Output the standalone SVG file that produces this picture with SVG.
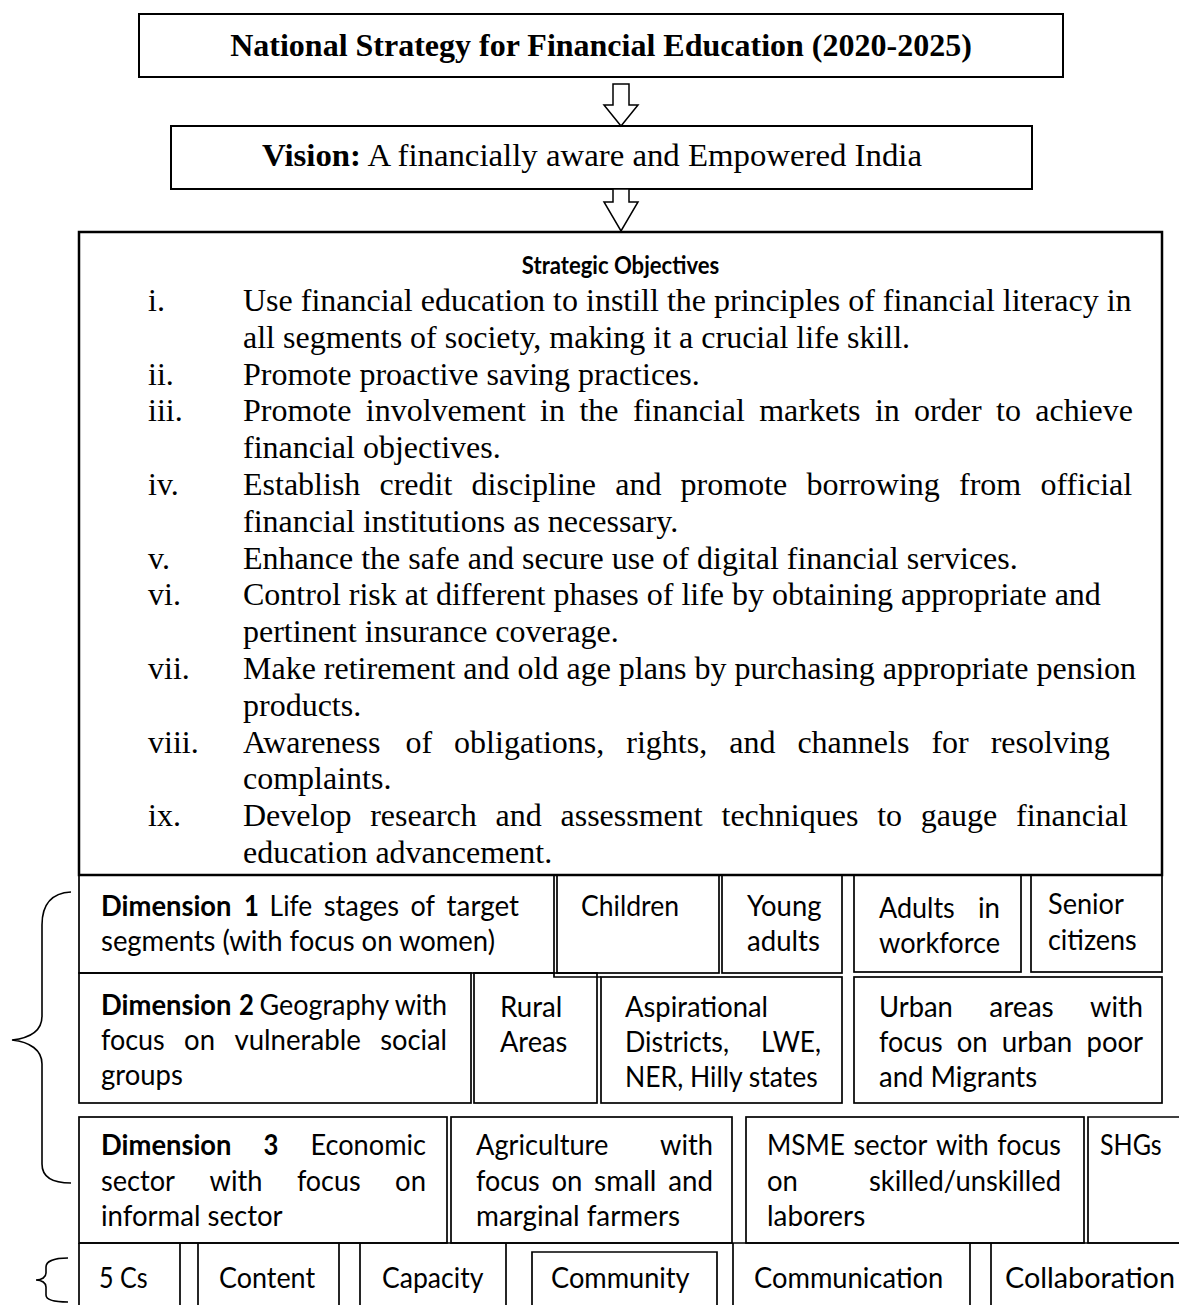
<svg xmlns="http://www.w3.org/2000/svg" width="1179" height="1305" viewBox="0 0 1179 1305">
<style>
.t{font-family:"Liberation Serif","Times New Roman",serif;font-size:32px;fill:#000}
.c{font-family:Lato,"Liberation Sans",sans-serif;font-size:29.33px;fill:#000}
.b{font-weight:bold}
.bx{fill:none;stroke:#000;stroke-width:2}
.ob{fill:none;stroke:#000;stroke-width:2.5}
.cl{fill:none;stroke:#000;stroke-width:1.7}
.ar{fill:#fff;stroke:#000;stroke-width:1.5;stroke-linejoin:miter}
.br{fill:none;stroke:#000;stroke-width:1.6}
</style>
<rect width="1179" height="1305" fill="#fff"/>

<g id="node-title">
<rect class="bx" x="139" y="14" width="924" height="63"/>
<text class="t b" x="601" y="56" text-anchor="middle">National Strategy for Financial Education (2020-2025)</text>
</g>

<g id="node-vision">
<rect class="bx" x="171" y="126" width="861" height="63"/>
<text class="t" x="262" y="166" textLength="660" lengthAdjust="spacingAndGlyphs"><tspan class="b">Vision:</tspan> A financially aware and Empowered India</text>
</g>

<g id="connectors">
<polygon class="ar" points="613,84 629,84 629,105 638,105 621,126 604,105 613,105"/>
<polygon class="ar" points="613,189 629,189 629,202 638,202 621,231 604,202 613,202"/>
</g>

<g id="node-objectives">
<rect class="ob" x="79" y="232" width="1083" height="643"/>
<text class="c b" x="620.5" y="274" text-anchor="middle" style="font-size:24px" textLength="197.4" lengthAdjust="spacingAndGlyphs">Strategic Objectives</text>
<text class="t" x="148" y="311">i.</text>
<text class="t" x="243" y="311">Use financial education to instill the principles of financial literacy in</text>
<text class="t" x="243" y="347.8">all segments of society, making it a crucial life skill.</text>
<text class="t" x="148" y="384.6">ii.</text>
<text class="t" x="243" y="384.6">Promote proactive saving practices.</text>
<text class="t" x="148" y="421.4">iii.</text>
<text class="t" y="421.4"><tspan x="243">Promote</tspan><tspan x="365.8">involvement</tspan><tspan x="540.1">in</tspan><tspan x="579.4">the</tspan><tspan x="632.9">financial</tspan><tspan x="759.2">markets</tspan><tspan x="874.9">in</tspan><tspan x="914.1">order</tspan><tspan x="996">to</tspan><tspan x="1035.3">achieve</tspan></text>
<text class="t" x="243" y="458.2">financial objectives.</text>
<text class="t" x="148" y="495">iv.</text>
<text class="t" y="495"><tspan x="243">Establish</tspan><tspan x="379.5">credit</tspan><tspan x="471.6">discipline</tspan><tspan x="615.2">and</tspan><tspan x="680.6">promote</tspan><tspan x="806.5">borrowing</tspan><tspan x="959">from</tspan><tspan x="1040.4">official</tspan></text>
<text class="t" x="243" y="531.8">financial institutions as necessary.</text>
<text class="t" x="148" y="568.6">v.</text>
<text class="t" x="243" y="568.6">Enhance the safe and secure use of digital financial services.</text>
<text class="t" x="148" y="605.4">vi.</text>
<text class="t" x="243" y="605.4">Control risk at different phases of life by obtaining appropriate and</text>
<text class="t" x="243" y="642.2">pertinent insurance coverage.</text>
<text class="t" x="148" y="679">vii.</text>
<text class="t" x="243" y="679">Make retirement and old age plans by purchasing appropriate pension</text>
<text class="t" x="243" y="715.8">products.</text>
<text class="t" x="148" y="752.6">viii.</text>
<text class="t" y="752.6"><tspan x="243">Awareness</tspan><tspan x="405.4">of</tspan><tspan x="454.1">obligations,</tspan><tspan x="626.3">rights,</tspan><tspan x="729.2">and</tspan><tspan x="797.4">channels</tspan><tspan x="931.4">for</tspan><tspan x="990.7">resolving</tspan></text>
<text class="t" x="243" y="789.4">complaints.</text>
<text class="t" x="148" y="826.2">ix.</text>
<text class="t" y="826.2"><tspan x="243">Develop</tspan><tspan x="370.2">research</tspan><tspan x="495.6">and</tspan><tspan x="560.5">assessment</tspan><tspan x="721.5">techniques</tspan><tspan x="877.2">to</tspan><tspan x="920.8">gauge</tspan><tspan x="1016">financial</tspan></text>
<text class="t" x="243" y="863">education advancement.</text>
</g>

<g id="node-dimension1">
<rect class="cl" x="79" y="875" width="475" height="98"/>
<text class="c b" x="101" y="916" textLength="130.5" lengthAdjust="spacingAndGlyphs">Dimension</text>
<text class="c b" x="244" y="916" textLength="14.9" lengthAdjust="spacingAndGlyphs">1</text>
<text class="c" x="269.6" y="916" textLength="42.6" lengthAdjust="spacingAndGlyphs">Life</text>
<text class="c" x="323.8" y="916" textLength="75.2" lengthAdjust="spacingAndGlyphs">stages</text>
<text class="c" x="410.6" y="916" textLength="24.4" lengthAdjust="spacingAndGlyphs">of</text>
<text class="c" x="446.6" y="916" textLength="72.4" lengthAdjust="spacingAndGlyphs">target</text>
<text class="c" x="101" y="951" textLength="394" lengthAdjust="spacingAndGlyphs">segments (with focus on women)</text>
</g>
<g id="node-children">
<rect class="cl" x="557" y="875" width="162" height="98"/>
<text class="c" x="581" y="916" textLength="98" lengthAdjust="spacingAndGlyphs">Children</text>
</g>
<g id="node-young-adults">
<rect class="cl" x="722" y="875" width="120" height="98"/>
<text class="c" x="747" y="916" textLength="74.4" lengthAdjust="spacingAndGlyphs">Young</text>
<text class="c" x="747" y="951" textLength="72.9" lengthAdjust="spacingAndGlyphs">adults</text>
</g>
<g id="node-adults-workforce">
<rect class="cl" x="854" y="875" width="167" height="97"/>
<text class="c" x="879" y="918" textLength="75.8" lengthAdjust="spacingAndGlyphs">Adults</text>
<text class="c" x="977.9" y="918" textLength="22.1" lengthAdjust="spacingAndGlyphs">in</text>
<text class="c" x="879" y="953" textLength="121" lengthAdjust="spacingAndGlyphs">workforce</text>
</g>
<g id="node-senior-citizens">
<rect class="cl" x="1031" y="875" width="131" height="97"/>
<text class="c" x="1048" y="914" textLength="75.9" lengthAdjust="spacingAndGlyphs">Senior</text>
<text class="c" x="1048" y="950" textLength="88.7" lengthAdjust="spacingAndGlyphs">citizens</text>
</g>

<g id="node-dimension2">
<rect class="cl" x="79" y="973" width="392" height="130"/>
<text class="c b" x="101" y="1015" textLength="130.5" lengthAdjust="spacingAndGlyphs">Dimension</text>
<text class="c b" x="239" y="1015" textLength="14.9" lengthAdjust="spacingAndGlyphs">2</text>
<text class="c" x="259.5" y="1015" textLength="187.5" lengthAdjust="spacingAndGlyphs">Geography with</text>
<text class="c" x="101" y="1050" textLength="63.7" lengthAdjust="spacingAndGlyphs">focus</text>
<text class="c" x="184.1" y="1050" textLength="30.9" lengthAdjust="spacingAndGlyphs">on</text>
<text class="c" x="234.4" y="1050" textLength="126.4" lengthAdjust="spacingAndGlyphs">vulnerable</text>
<text class="c" x="380.2" y="1050" textLength="66.8" lengthAdjust="spacingAndGlyphs">social</text>
<text class="c" x="101" y="1085" textLength="81.8" lengthAdjust="spacingAndGlyphs">groups</text>
</g>
<g id="node-rural">
<rect class="cl" x="474" y="973" width="123" height="130"/>
<polyline class="cl" points="554,973 554,977 601,977"/>
<text class="c" x="500" y="1017" textLength="62.3" lengthAdjust="spacingAndGlyphs">Rural</text>
<text class="c" x="500" y="1052" textLength="67.3" lengthAdjust="spacingAndGlyphs">Areas</text>
</g>
<g id="node-aspirational">
<rect class="cl" x="601" y="977" width="241" height="126"/>
<text class="c" x="625" y="1017" textLength="143" lengthAdjust="spacingAndGlyphs">Aspirational</text>
<text class="c" x="625" y="1052" textLength="104" lengthAdjust="spacingAndGlyphs">Districts,</text>
<text class="c" x="760.9" y="1052" textLength="60.1" lengthAdjust="spacingAndGlyphs">LWE,</text>
<text class="c" x="625" y="1087" textLength="192.7" lengthAdjust="spacingAndGlyphs">NER, Hilly states</text>
</g>
<g id="node-urban">
<rect class="cl" x="854" y="977" width="308" height="126"/>
<text class="c" x="879" y="1017" textLength="73.9" lengthAdjust="spacingAndGlyphs">Urban</text>
<text class="c" x="989.3" y="1017" textLength="64.4" lengthAdjust="spacingAndGlyphs">areas</text>
<text class="c" x="1090.1" y="1017" textLength="52.9" lengthAdjust="spacingAndGlyphs">with</text>
<text class="c" x="879" y="1052" textLength="63.7" lengthAdjust="spacingAndGlyphs">focus</text>
<text class="c" x="956.8" y="1052" textLength="30.9" lengthAdjust="spacingAndGlyphs">on</text>
<text class="c" x="1001.8" y="1052" textLength="70.5" lengthAdjust="spacingAndGlyphs">urban</text>
<text class="c" x="1086.5" y="1052" textLength="56.5" lengthAdjust="spacingAndGlyphs">poor</text>
<text class="c" x="879" y="1087" textLength="158.1" lengthAdjust="spacingAndGlyphs">and Migrants</text>
</g>

<g id="node-dimension3">
<rect class="cl" x="79" y="1117" width="368" height="126"/>
<text class="c b" x="101" y="1155" textLength="130.5" lengthAdjust="spacingAndGlyphs">Dimension</text>
<text class="c b" x="263.5" y="1155" textLength="14.9" lengthAdjust="spacingAndGlyphs">3</text>
<text class="c" x="310.4" y="1155" textLength="115.6" lengthAdjust="spacingAndGlyphs">Economic</text>
<text class="c" x="101" y="1191" textLength="74" lengthAdjust="spacingAndGlyphs">sector</text>
<text class="c" x="209.5" y="1191" textLength="52.9" lengthAdjust="spacingAndGlyphs">with</text>
<text class="c" x="296.9" y="1191" textLength="63.7" lengthAdjust="spacingAndGlyphs">focus</text>
<text class="c" x="395.1" y="1191" textLength="30.9" lengthAdjust="spacingAndGlyphs">on</text>
<text class="c" x="101" y="1226" textLength="181.6" lengthAdjust="spacingAndGlyphs">informal sector</text>
</g>
<g id="node-agriculture">
<rect class="cl" x="451" y="1117" width="281" height="126"/>
<text class="c" x="476" y="1155" textLength="132.3" lengthAdjust="spacingAndGlyphs">Agriculture</text>
<text class="c" x="660.1" y="1155" textLength="52.9" lengthAdjust="spacingAndGlyphs">with</text>
<text class="c" x="476" y="1191" textLength="63.7" lengthAdjust="spacingAndGlyphs">focus</text>
<text class="c" x="551.4" y="1191" textLength="30.9" lengthAdjust="spacingAndGlyphs">on</text>
<text class="c" x="594" y="1191" textLength="62.4" lengthAdjust="spacingAndGlyphs">small</text>
<text class="c" x="668.2" y="1191" textLength="44.8" lengthAdjust="spacingAndGlyphs">and</text>
<text class="c" x="476" y="1226" textLength="204" lengthAdjust="spacingAndGlyphs">marginal farmers</text>
</g>
<g id="node-msme">
<rect class="cl" x="746" y="1117" width="338" height="126"/>
<text class="c" x="767" y="1155" textLength="77.9" lengthAdjust="spacingAndGlyphs">MSME</text>
<text class="c" x="853.4" y="1155" textLength="74" lengthAdjust="spacingAndGlyphs">sector</text>
<text class="c" x="935.9" y="1155" textLength="52.9" lengthAdjust="spacingAndGlyphs">with</text>
<text class="c" x="997.3" y="1155" textLength="63.7" lengthAdjust="spacingAndGlyphs">focus</text>
<text class="c" x="767" y="1191" textLength="30.9" lengthAdjust="spacingAndGlyphs">on</text>
<text class="c" x="868.9" y="1191" textLength="192.1" lengthAdjust="spacingAndGlyphs">skilled/unskilled</text>
<text class="c" x="767" y="1226" textLength="98.2" lengthAdjust="spacingAndGlyphs">laborers</text>
</g>
<g id="node-shgs">
<polyline class="cl" points="1180,1117 1088,1117 1088,1243 1180,1243"/>
<text class="c" x="1100" y="1155" textLength="61.7" lengthAdjust="spacingAndGlyphs">SHGs</text>
</g>

<g id="node-5cs-row">
<line class="cl" x1="79" y1="1243" x2="1180" y2="1243"/>
<line class="cl" x1="79" y1="1243" x2="79" y2="1306"/>
<line class="cl" x1="180" y1="1243" x2="180" y2="1306"/>
<line class="cl" x1="198" y1="1243" x2="198" y2="1306"/>
<line class="cl" x1="339" y1="1243" x2="339" y2="1306"/>
<line class="cl" x1="360" y1="1243" x2="360" y2="1306"/>
<line class="cl" x1="506" y1="1243" x2="506" y2="1306"/>
<line class="cl" x1="733" y1="1243" x2="733" y2="1306"/>
<line class="cl" x1="970" y1="1243" x2="970" y2="1306"/>
<line class="cl" x1="991" y1="1243" x2="991" y2="1306"/>
<polyline class="cl" points="532,1306 532,1252 717,1252 717,1306"/>
<text class="c" x="99" y="1288" textLength="48.6" lengthAdjust="spacingAndGlyphs">5 Cs</text>
<text class="c" x="219" y="1288" textLength="96.1" lengthAdjust="spacingAndGlyphs">Content</text>
<text class="c" x="382" y="1288" textLength="101.4" lengthAdjust="spacingAndGlyphs">Capacity</text>
<text class="c" x="551" y="1288" textLength="138.6" lengthAdjust="spacingAndGlyphs">Community</text>
<text class="c" x="754" y="1288" textLength="189.3" lengthAdjust="spacingAndGlyphs">Communication</text>
<text class="c" x="1005" y="1288" textLength="170" lengthAdjust="spacingAndGlyphs">Collaboration</text>
</g>

<g id="braces">
<path class="br" d="M71,892 C52,893 42,903 42,925 L42,1016 C42,1031 30,1038 12,1040 C30,1042 42,1050 42,1064 L42,1164 C42,1177 52,1183 71,1183"/>
<path class="br" d="M68,1258 C55,1258 46,1261 46,1267 L46,1273 C46,1277 42,1280 36,1280 C42,1280 46,1283 46,1287 L46,1295 C46,1300 55,1302 68,1302"/>
</g>
</svg>
